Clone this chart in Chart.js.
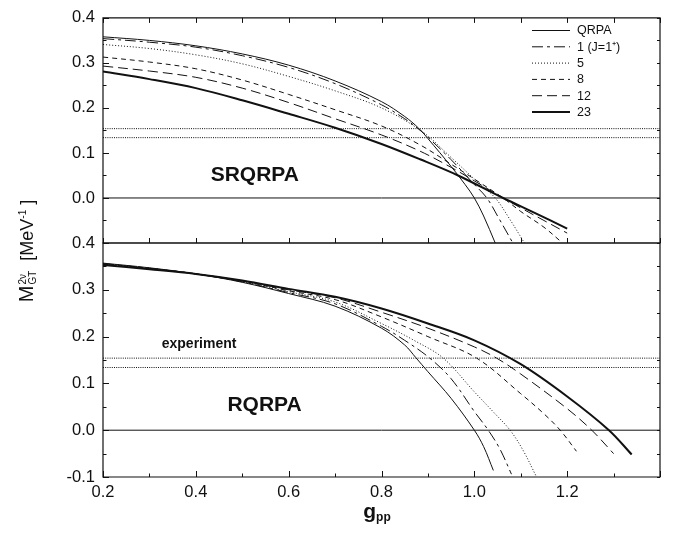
<!DOCTYPE html>
<html><head><meta charset="utf-8">
<script src="https://cdn.jsdelivr.net/npm/chart.js@4/dist/chart.umd.min.js"></script>
<style>
html,body{margin:0;padding:0;background:#fff;}
#wrap{position:relative;width:675px;height:534px;background:#fff;}
canvas{position:absolute;left:0;top:0;}
</style></head><body>
<div id="wrap"><canvas id="cTop" width="675" height="534"></canvas><canvas id="cBot" width="675" height="534"></canvas></div>
<script>
// ---------------- DATA ----------------
const seriesLabels = ['QRPA', '1 (J=1\u207A)', '5', '8', '12', '23'];
const expLow = 0.134;
const expHigh = 0.154;
const xTickLabels = ['0.2', '0.4', '0.6', '0.8', '1.0', '1.2'];
const yTickLabels = ['-0.1', '0.0', '0.1', '0.2', '0.3', '0.4'];

// Upper panel (SRQRPA)
const srQRPA_g = [0.2, 0.3, 0.4, 0.5, 0.6, 0.7, 0.8, 0.85, 0.88, 0.9, 0.95, 0.98, 1.0, 1.02, 1.045];
const srQRPA_m = [0.358, 0.350, 0.338, 0.320, 0.295, 0.260, 0.214, 0.181, 0.155, 0.132, 0.070, 0.030, 0.0, -0.040, -0.100];
const sr1_g = [0.2, 0.3, 0.4, 0.5, 0.6, 0.7, 0.8, 0.85, 0.88, 0.9, 0.95, 1.0, 1.027, 1.05, 1.083];
const sr1_m = [0.354, 0.346, 0.335, 0.316, 0.290, 0.254, 0.207, 0.176, 0.153, 0.135, 0.085, 0.030, 0.0, -0.040, -0.100];
const sr5_g = [0.2, 0.3, 0.4, 0.5, 0.6, 0.7, 0.8, 0.887, 0.95, 1.0, 1.045, 1.075, 1.108];
const sr5_m = [0.341, 0.332, 0.318, 0.298, 0.270, 0.238, 0.200, 0.148, 0.090, 0.042, 0.0, -0.045, -0.100];
const sr8_g = [0.2, 0.3, 0.4, 0.5, 0.6, 0.7, 0.8, 0.883, 0.95, 1.0, 1.062, 1.1, 1.15, 1.19];
const sr8_m = [0.313, 0.302, 0.287, 0.262, 0.230, 0.196, 0.160, 0.118, 0.075, 0.042, 0.0, -0.030, -0.065, -0.100];
const sr12_g = [0.2, 0.3, 0.4, 0.5, 0.6, 0.7, 0.8, 0.883, 0.95, 1.0, 1.062, 1.1, 1.15, 1.2];
const sr12_m = [0.293, 0.282, 0.268, 0.244, 0.212, 0.176, 0.140, 0.104, 0.068, 0.038, 0.0, -0.022, -0.050, -0.078];
const sr23_g = [0.2, 0.3, 0.4, 0.5, 0.6, 0.7, 0.8, 0.883, 0.965, 1.062, 1.13, 1.2];
const sr23_m = [0.281, 0.264, 0.244, 0.217, 0.187, 0.156, 0.120, 0.086, 0.050, 0.0, -0.033, -0.068];

// Lower panel (RQRPA)
const rQRPA_g = [0.2, 0.3, 0.4, 0.5, 0.6, 0.7, 0.8, 0.85, 0.874, 0.9, 0.95, 1.0, 1.02, 1.041];
const rQRPA_m = [0.357, 0.347, 0.334, 0.316, 0.292, 0.265, 0.218, 0.182, 0.155, 0.125, 0.068, 0.0, -0.035, -0.086];
const r1_g = [0.2, 0.3, 0.4, 0.5, 0.6, 0.7, 0.8, 0.85, 0.904, 0.95, 1.0, 1.03, 1.055, 1.08];
const r1_m = [0.356, 0.346, 0.334, 0.317, 0.294, 0.270, 0.222, 0.192, 0.154, 0.110, 0.040, 0.0, -0.040, -0.094];
const r5_g = [0.2, 0.3, 0.4, 0.5, 0.6, 0.7, 0.8, 0.87, 0.933, 1.0, 1.04, 1.077, 1.105, 1.134];
const r5_m = [0.356, 0.346, 0.334, 0.318, 0.296, 0.274, 0.228, 0.192, 0.154, 0.082, 0.040, 0.0, -0.043, -0.100];
const r8_g = [0.2, 0.3, 0.4, 0.5, 0.6, 0.7, 0.8, 0.9, 1.005, 1.1, 1.15, 1.185, 1.22];
const r8_m = [0.355, 0.346, 0.334, 0.319, 0.298, 0.279, 0.242, 0.200, 0.154, 0.078, 0.035, 0.0, -0.045];
const r12_g = [0.2, 0.3, 0.4, 0.5, 0.6, 0.7, 0.8, 0.9, 1.0, 1.048, 1.1, 1.2, 1.253, 1.30];
const r12_m = [0.354, 0.345, 0.334, 0.319, 0.300, 0.283, 0.252, 0.218, 0.178, 0.154, 0.120, 0.046, 0.0, -0.050];
const r23_g = [0.2, 0.3, 0.4, 0.5, 0.6, 0.7, 0.8, 0.9, 1.0, 1.1, 1.2, 1.29, 1.339];
const r23_m = [0.353, 0.344, 0.334, 0.320, 0.302, 0.285, 0.260, 0.228, 0.192, 0.141, 0.072, 0.0, -0.052];

// ---------------- STYLE ----------------
const FONT = "'Liberation Sans', Arial, Helvetica, sans-serif";
const INK = '#111';
const styles = [
  { dash: [], width: 1 },
  { dash: [11, 4, 3, 4], width: 1 },
  { dash: [1, 2], width: 1 },
  { dash: [5, 4], width: 1 },
  { dash: [10, 5], width: 1 },
  { dash: [], width: 2 }
];
const X_MIN = 0.2, X_MAX = 1.4, Y_MIN = -0.1, Y_MAX = 0.4;

Chart.defaults.font.family = FONT;
Chart.defaults.color = INK;

function pts(gs, ms) { return gs.map((g, i) => ({ x: g, y: ms[i] })); }

function curveSets(groups) {
  return groups.map((gr, i) => ({
    label: seriesLabels[i],
    data: pts(gr[0], gr[1]),
    borderColor: INK,
    borderWidth: styles[i].width,
    borderDash: styles[i].dash,
    pointRadius: 0,
    fill: false,
    tension: 0.35
  }));
}
function refSets() {
  const hl = (v, dash) => ({
    label: '_ref', isRef: true,
    data: [{ x: X_MIN, y: v }, { x: X_MAX, y: v }],
    borderColor: INK, borderWidth: 1, borderDash: dash, pointRadius: 0, fill: false
  });
  return [hl(expHigh, [1, 1.2]), hl(expLow, [1, 1.2]), hl(0, [])];
}

// frame + inward ticks
const framePlugin = {
  id: 'frame',
  afterDatasetsDraw(chart, args, o) {
    const { ctx, chartArea: a } = chart;
    const x = chart.scales.x, y = chart.scales.y;
    ctx.save();
    ctx.strokeStyle = INK;
    ctx.lineWidth = 1.2;
    ctx.setLineDash([]);
    ctx.beginPath();
    ctx.rect(a.left, a.top, a.right - a.left, a.bottom - a.top);
    ctx.stroke();
    ctx.lineWidth = 1;
    ctx.beginPath();
    for (let k = 0; k <= 10; k++) {
      const py = Math.round(y.getPixelForValue(Y_MIN + k * 0.05)) + 0.5;
      const major = k % 2 === 0;
      ctx.moveTo(a.left, py); ctx.lineTo(a.left + (major ? 6 : 3.5), py);
      ctx.moveTo(a.right, py); ctx.lineTo(a.right - 3, py);
    }
    for (let k = 0; k <= 12; k++) {
      const px = Math.round(x.getPixelForValue(X_MIN + k * 0.1)) + 0.5;
      const major = k % 2 === 0;
      if (o.topTicks) { ctx.moveTo(px, a.top); ctx.lineTo(px, a.top + 5); }
      const bl = o.bottomUniform ? 5 : (major ? 6 : 3.5);
      ctx.moveTo(px, a.bottom); ctx.lineTo(px, a.bottom - bl);
    }
    ctx.stroke();
    ctx.restore();
  },
  afterDraw(chart, args, o) {
    const { ctx } = chart;
    const x = chart.scales.x, y = chart.scales.y;
    ctx.save();
    ctx.fillStyle = INK;
    (o.texts || []).forEach(t => {
      ctx.font = t.font;
      ctx.textAlign = 'center';
      ctx.textBaseline = 'middle';
      ctx.fillText(t.text, x.getPixelForValue(t.gx), y.getPixelForValue(t.my));
    });
    if (o.legend) {
      const L = o.legend;
      chart.data.datasets.filter(d => !d.isRef).forEach((d, i) => {
        const yy = L.y0 + i * L.dy;
        ctx.save();
        ctx.strokeStyle = INK;
        ctx.lineWidth = d.borderWidth;
        ctx.setLineDash(d.borderDash);
        ctx.beginPath();
        ctx.moveTo(L.x0, yy + 0.5); ctx.lineTo(L.x1, yy + 0.5);
        ctx.stroke();
        ctx.restore();
        ctx.font = '12.5px ' + FONT;
        ctx.textAlign = 'left';
        ctx.textBaseline = 'middle';
        ctx.fillText(d.label, L.tx, yy + 1);
      });
    }
    if (o.titles) {
      // x title: g_pp
      ctx.textBaseline = 'alphabetic';
      ctx.textAlign = 'left';
      ctx.font = 'bold 21px ' + FONT;
      const gw = ctx.measureText('g').width;
      ctx.font = 'bold 12px ' + FONT;
      const pw = ctx.measureText('pp').width;
      const cx = 377, start = cx - (gw + pw) / 2;
      ctx.font = 'bold 21px ' + FONT;
      ctx.fillText('g', start, 518);
      ctx.font = 'bold 12px ' + FONT;
      ctx.fillText('pp', start + gw, 521);
      // y title: M^{2v}_{GT} [MeV^-1]
      ctx.save();
      ctx.translate(33, 251);
      ctx.rotate(-Math.PI / 2);
      const big = '20px ' + FONT, mid = '18px ' + FONT, sm = '10px ' + FONT;
      ctx.font = big; const wM = ctx.measureText('M').width;
      ctx.font = sm; const wS = Math.max(ctx.measureText('2\u03BD').width, ctx.measureText('GT').width);
      ctx.font = mid; const wB = ctx.measureText('  [MeV').width;
      ctx.font = sm; const wE = ctx.measureText('-1').width;
      ctx.font = mid; const wC = ctx.measureText(' ]').width;
      const total = wM + 1 + wS + wB + wE + wC;
      let p = -total / 2;
      ctx.font = big; ctx.fillText('M', p, 0); p += wM + 1;
      ctx.font = sm; ctx.fillText('2\u03BD', p, -7); ctx.fillText('GT', p, 3); p += wS;
      ctx.font = mid; ctx.fillText('  [MeV', p, 0); p += wB;
      ctx.font = sm; ctx.fillText('-1', p, -7); p += wE;
      ctx.font = mid; ctx.fillText(' ]', p, 0);
      ctx.restore();
    }
    ctx.restore();
  }
};

function yTickFmt(hideBottom) {
  return function (v) {
    const lab = (Math.abs(v) < 1e-9 ? 0 : v).toFixed(1);
    if (hideBottom && Math.abs(v - Y_MIN) < 1e-9) return '';
    return yTickLabels.includes(lab) ? lab : '';
  };
}

function baseOptions(cfg) {
  return {
    responsive: false,
    animation: false,
    events: [],
    layout: { padding: cfg.padding },
    plugins: { legend: { display: false }, tooltip: { enabled: false }, frame: cfg.frame },
    scales: {
      x: {
        type: 'linear', min: X_MIN, max: X_MAX,
        display: cfg.showX,
        grid: { display: false, drawTicks: false },
        border: { display: false },
        ticks: {
          stepSize: 0.2, padding: 6,
          font: { size: 16.5, family: FONT }, color: INK,
          maxRotation: 0, autoSkip: false,
          callback: v => { const l = (+v).toFixed(1); return xTickLabels.includes(l) ? l : ''; }
        },
        afterFit: s => { s.height = cfg.showX ? 57 : 0; }
      },
      y: {
        type: 'linear', min: Y_MIN, max: Y_MAX,
        grid: { display: false, drawTicks: false },
        border: { display: false },
        ticks: {
          stepSize: 0.1, padding: 8,
          font: { size: 16.5, family: FONT }, color: INK,
          callback: yTickFmt(cfg.hideBottom)
        },
        afterFit: s => { s.width = 103; }
      }
    }
  };
}

new Chart(document.getElementById('cTop'), {
  type: 'line',
  data: {
    datasets: curveSets([
      [srQRPA_g, srQRPA_m], [sr1_g, sr1_m], [sr5_g, sr5_m],
      [sr8_g, sr8_m], [sr12_g, sr12_m], [sr23_g, sr23_m]
    ]).concat(refSets())
  },
  options: baseOptions({
    padding: { top: 10, right: 15, bottom: 291, left: 0 },
    showX: false, hideBottom: true,
    frame: {
      topTicks: true, bottomUniform: true,
      texts: [{ text: 'SRQRPA', gx: 0.527, my: 0.051, font: 'bold 21px ' + FONT }],
      legend: { x0: 532, x1: 570, tx: 577, y0: 30, dy: 16.3 }
    }
  }),
  plugins: [framePlugin]
});

new Chart(document.getElementById('cBot'), {
  type: 'line',
  data: {
    datasets: curveSets([
      [rQRPA_g, rQRPA_m], [r1_g, r1_m], [r5_g, r5_m],
      [r8_g, r8_m], [r12_g, r12_m], [r23_g, r23_m]
    ]).concat(refSets())
  },
  options: baseOptions({
    padding: { top: 243, right: 15, bottom: 0, left: 0 },
    showX: true, hideBottom: false,
    frame: {
      topTicks: false, bottomUniform: false,
      texts: [
        { text: 'RQRPA', gx: 0.548, my: 0.053, font: 'bold 21px ' + FONT },
        { text: 'experiment', gx: 0.407, my: 0.183, font: 'bold 14px ' + FONT }
      ],
      titles: true
    }
  }),
  plugins: [framePlugin]
});
</script>
</body></html>
